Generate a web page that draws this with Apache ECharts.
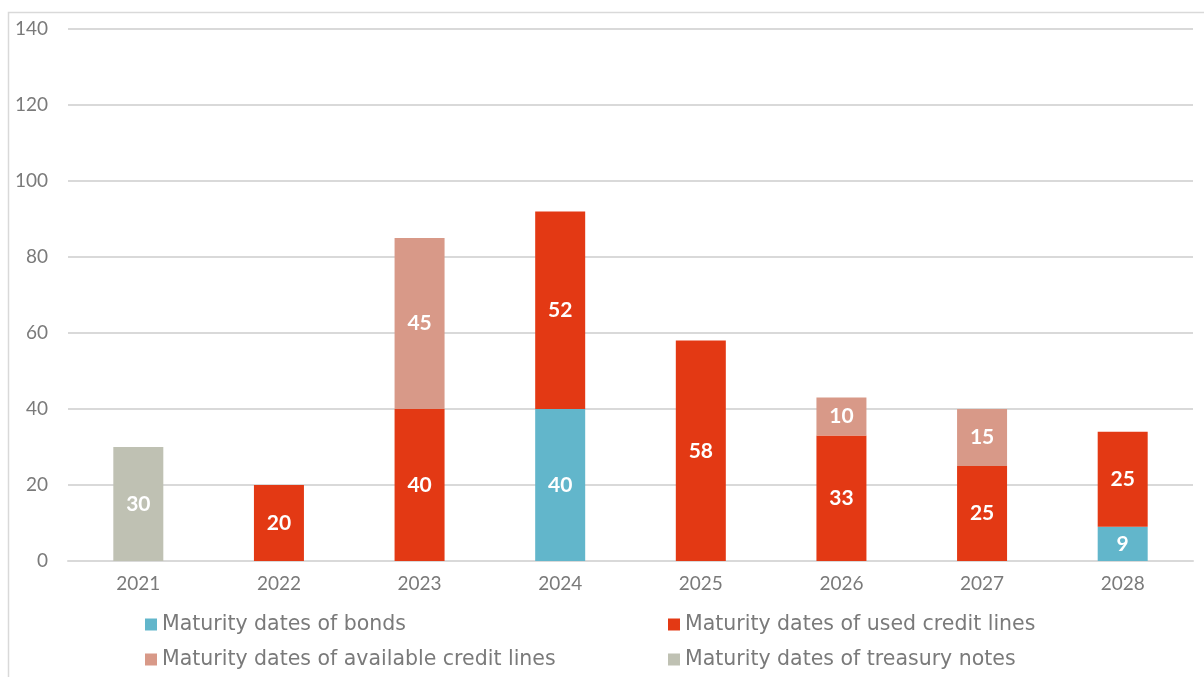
<!DOCTYPE html>
<html><head><meta charset="utf-8">
<script src="https://cdn.jsdelivr.net/npm/echarts@6/dist/echarts.min.js"></script>
<style>html,body{margin:0;padding:0;background:#fff}#c{width:1204px;height:677px}</style>
</head><body><div id="c"></div>
<script>
const categories = ['2021','2022','2023','2024','2025','2026','2027','2028'];
const bonds = [null,null,null,40,null,null,null,9];
const usedCredit = [null,20,40,52,58,33,25,25];
const availableCredit = [null,null,45,null,null,10,15,null];
const treasuryNotes = [30,null,null,null,null,null,null,null];
const yTicks = [0,20,40,60,80,100,120,140];

const FONT = 'Lato';
const LFONT = 'DejaVu Sans';
const chart = echarts.init(document.getElementById('c'));
const label = {show:true,position:'inside',color:'#fff',fontWeight:'bold',fontSize:21,fontFamily:FONT};
function s(name,data,color){
  return {name,type:'bar',stack:'t',data,barWidth:50,itemStyle:{color},label,emphasis:{disabled:true}};
}
const legendText = {fontFamily:LFONT,fontSize:20.5,color:'#7a7a7a',padding:[0,0,0,0]};
chart.setOption({
  animation:false,
  graphic:[{type:'polyline',shape:{points:[[8.5,700],[8.5,12.5],[1220,12.5]]},style:{stroke:'#d9d9d9',lineWidth:1.5,fill:null},silent:true}],
  grid:{left:68,right:11,top:29,bottom:116},
  legend:[
    {data:['Maturity dates of bonds','Maturity dates of available credit lines'],orient:'vertical',left:140,top:609,itemWidth:12,itemHeight:12,itemGap:14,icon:'rect',textStyle:legendText},
    {data:['Maturity dates of used credit lines','Maturity dates of treasury notes'],orient:'vertical',left:663,top:609,itemWidth:12,itemHeight:12,itemGap:14,icon:'rect',textStyle:legendText}
  ],
  xAxis:{type:'category',data:categories,axisTick:{show:false},axisLine:{lineStyle:{color:'#d9d9d9',width:2}},axisLabel:{color:'#7a7a7a',fontSize:19,fontFamily:FONT,margin:13}},
  yAxis:{type:'value',min:yTicks[0],max:yTicks[yTicks.length-1],interval:20,axisLine:{show:false},axisTick:{show:false},splitLine:{lineStyle:{color:'#d9d9d9',width:2}},axisLabel:{color:'#7a7a7a',fontSize:19,fontFamily:FONT,margin:20}},
  series:[
    s('Maturity dates of bonds',bonds,'#62B6CB'),
    s('Maturity dates of used credit lines',usedCredit,'#E33914'),
    s('Maturity dates of available credit lines',availableCredit,'#D89988'),
    s('Maturity dates of treasury notes',treasuryNotes,'#BFC1B3')
  ]
});
</script></body></html>
